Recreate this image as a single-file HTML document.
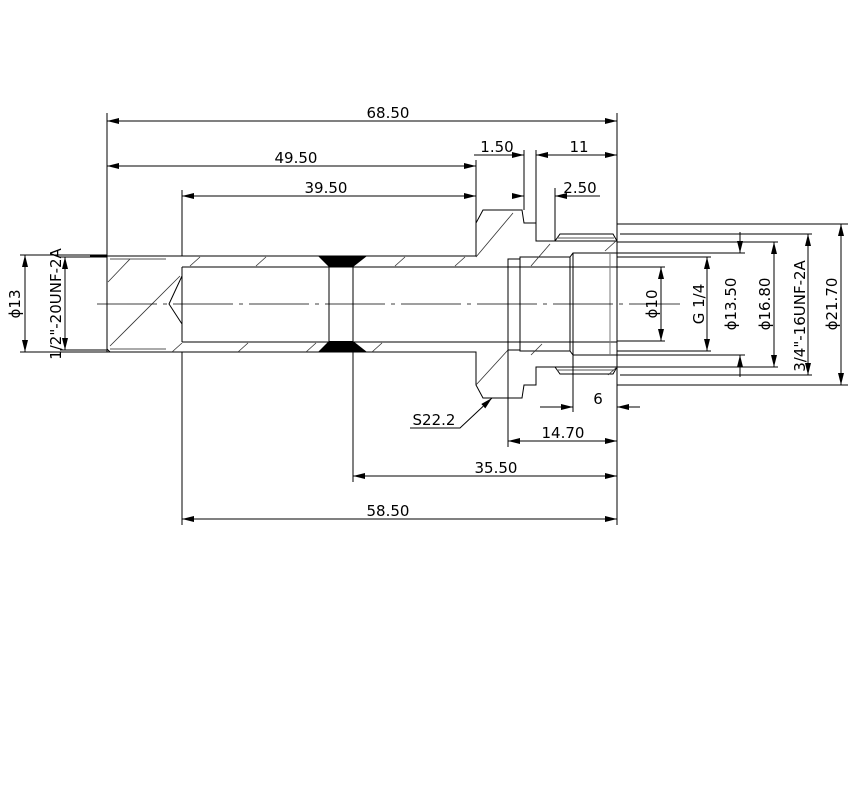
<!DOCTYPE html>
<html><head><meta charset="utf-8"><style>
html,body{margin:0;padding:0;background:#fff;}
svg{display:block;}
text{font-family:"DejaVu Sans","Liberation Sans",sans-serif;font-size:15px;fill:#000;}
</style></head><body>
<svg width="852" height="800" viewBox="0 0 852 800" xmlns="http://www.w3.org/2000/svg">
<defs>
<marker id="a" viewBox="0 0 12 6" refX="12" refY="3" markerWidth="12" markerHeight="6" orient="auto-start-reverse" markerUnits="userSpaceOnUse"><path d="M0,0 L12,3 L0,6 z" fill="#000"/></marker>
</defs>
<g stroke="#000" stroke-width="1" fill="none">
<polyline points="107,256 107,352"/>
<line x1="90" y1="256" x2="182" y2="256"/>
<line x1="90" y1="352" x2="182" y2="352"/>
<polyline points="182,256 182,190"/>
<polyline points="182,256 476,256 476,223 483,210 522,210 524,223 536,223 536,241 555,241"/>
<polyline points="182,352 476,352 476,385 483,398 522,398 524,385 536,385 536,367 555,367"/>
<polyline points="555,241 560,234 613,234 617,241"/>
<polyline points="555,367 560,374 613,374 617,367"/>
<line x1="557" y1="238" x2="614" y2="238" stroke="#555"/>
<line x1="557" y1="370" x2="614" y2="370" stroke="#555"/>
<line x1="555" y1="241" x2="617" y2="241"/>
<line x1="555" y1="367" x2="617" y2="367"/>
<line x1="110" y1="259" x2="166" y2="259" stroke="#555"/>
<line x1="110" y1="349" x2="166" y2="349" stroke="#555"/>
<polyline points="107,259 107,349 110,352"/>
<polyline points="182,267 182,342"/>
<line x1="182" y1="267" x2="617" y2="267"/>
<line x1="182" y1="342" x2="617" y2="342"/>
<polyline points="182,276 169,304 182,324"/>
<line x1="329" y1="267" x2="329" y2="342"/>
<line x1="353" y1="267" x2="353" y2="482"/>
<polyline points="508,350 508,259 520,259"/>
<polyline points="508,350 520,350"/>
<rect x="520" y="257" width="50" height="94"/>
<polyline points="570,257 573,253 617,253"/>
<polyline points="570,351 573,355 617,355"/>
<line x1="573" y1="253" x2="573" y2="355"/>
<line x1="610" y1="253" x2="610" y2="355" stroke="#777"/>
<line x1="617" y1="113" x2="617" y2="525"/>
<g stroke="#333" stroke-width="0.8">
<line x1="108" y1="282" x2="130" y2="259"/>
<line x1="110" y1="346" x2="180" y2="276"/>
<line x1="190" y1="266" x2="200" y2="257"/>
<line x1="256" y1="266" x2="266" y2="257"/>
<line x1="395" y1="266" x2="405" y2="257"/>
<line x1="455" y1="266" x2="465" y2="257"/>
<line x1="476" y1="257" x2="513" y2="213"/>
<line x1="531" y1="266" x2="550" y2="244"/>
<line x1="605" y1="251" x2="616" y2="241"/>
<line x1="172" y1="352" x2="182" y2="343"/>
<line x1="238" y1="352" x2="248" y2="343"/>
<line x1="306" y1="352" x2="316" y2="343"/>
<line x1="372" y1="352" x2="382" y2="343"/>
<line x1="476" y1="385" x2="508" y2="350"/>
<line x1="531" y1="355" x2="542" y2="344"/>
<line x1="608" y1="375" x2="617" y2="367"/>
</g>
<line x1="97" y1="304" x2="680" y2="304" stroke-dasharray="60,6,4,6" stroke-width="0.8"/>
<line x1="107" y1="256" x2="107" y2="113"/>
<line x1="182" y1="352" x2="182" y2="525"/>
<line x1="476" y1="223" x2="476" y2="160"/>
<line x1="524" y1="210" x2="524" y2="150"/>
<line x1="536" y1="223" x2="536" y2="150"/>
<line x1="555" y1="241" x2="555" y2="188"/>
<line x1="508" y1="350" x2="508" y2="447"/>
<line x1="573" y1="355" x2="573" y2="412"/>
<line x1="20" y1="255" x2="107" y2="255"/>
<line x1="20" y1="352" x2="107" y2="352"/>
<line x1="60" y1="257" x2="107" y2="257"/>
<line x1="60" y1="350" x2="107" y2="350"/>
<line x1="617" y1="224" x2="848" y2="224"/>
<line x1="617" y1="385" x2="848" y2="385"/>
<line x1="620" y1="234" x2="812" y2="234"/>
<line x1="620" y1="375" x2="812" y2="375"/>
<line x1="617" y1="242" x2="778" y2="242"/>
<line x1="617" y1="367" x2="778" y2="367"/>
<line x1="617" y1="253" x2="745" y2="253"/>
<line x1="617" y1="355" x2="745" y2="355"/>
<line x1="617" y1="257" x2="711" y2="257"/>
<line x1="617" y1="351" x2="711" y2="351"/>
<line x1="617" y1="267" x2="665" y2="267"/>
<line x1="617" y1="341" x2="665" y2="341"/>
<g marker-start="url(#a)" marker-end="url(#a)">
<line x1="107" y1="121" x2="617" y2="121"/>
<line x1="107" y1="166" x2="476" y2="166"/>
<line x1="182" y1="196" x2="476" y2="196"/>
<line x1="536" y1="155" x2="617" y2="155"/>
<line x1="508" y1="441" x2="617" y2="441"/>
<line x1="353" y1="476" x2="617" y2="476"/>
<line x1="182" y1="519" x2="617" y2="519"/>
<line x1="25" y1="255" x2="25" y2="352"/>
<line x1="65" y1="257" x2="65" y2="350"/>
<line x1="661" y1="267" x2="661" y2="341"/>
<line x1="707" y1="257" x2="707" y2="351"/>
<line x1="774" y1="242" x2="774" y2="367"/>
<line x1="808" y1="234" x2="808" y2="375"/>
<line x1="841" y1="224" x2="841" y2="385"/>
</g>
<g marker-end="url(#a)">
<line x1="474" y1="155" x2="524" y2="155"/>
<line x1="513" y1="196" x2="524" y2="196"/>
<line x1="600" y1="196" x2="555" y2="196"/>
<line x1="540" y1="407" x2="573" y2="407"/>
<line x1="640" y1="407" x2="617" y2="407"/>
<line x1="740" y1="232" x2="740" y2="253"/>
<line x1="740" y1="377" x2="740" y2="355"/>
<polyline points="410,428 460,428 492,398"/>
</g>
</g>
<polygon points="318,256 367,256 353,267 329,267" fill="#000"/>
<polygon points="318,352 367,352 353,341 329,341" fill="#000"/>
<text x="388" y="118" text-anchor="middle">68.50</text>
<text x="296" y="163" text-anchor="middle">49.50</text>
<text x="326" y="193" text-anchor="middle">39.50</text>
<text x="497" y="152" text-anchor="middle">1.50</text>
<text x="579" y="152" text-anchor="middle">11</text>
<text x="580" y="193" text-anchor="middle">2.50</text>
<text x="598" y="404" text-anchor="middle">6</text>
<text x="563" y="438" text-anchor="middle">14.70</text>
<text x="496" y="473" text-anchor="middle">35.50</text>
<text x="388" y="516" text-anchor="middle">58.50</text>
<text x="434" y="425" text-anchor="middle">S22.2</text>
<text transform="translate(20,304) rotate(-90)" text-anchor="middle">ϕ13</text>
<text transform="translate(61,304) rotate(-90)" text-anchor="middle">1/2"-20UNF-2A</text>
<text transform="translate(657,304) rotate(-90)" text-anchor="middle">ϕ10</text>
<text transform="translate(704,304) rotate(-90)" text-anchor="middle">G 1/4</text>
<text transform="translate(736,304) rotate(-90)" text-anchor="middle">ϕ13.50</text>
<text transform="translate(770,304) rotate(-90)" text-anchor="middle">ϕ16.80</text>
<text transform="translate(805,316) rotate(-90)" text-anchor="middle">3/4"-16UNF-2A</text>
<text transform="translate(837,304) rotate(-90)" text-anchor="middle">ϕ21.70</text>
</svg>
</body></html>
